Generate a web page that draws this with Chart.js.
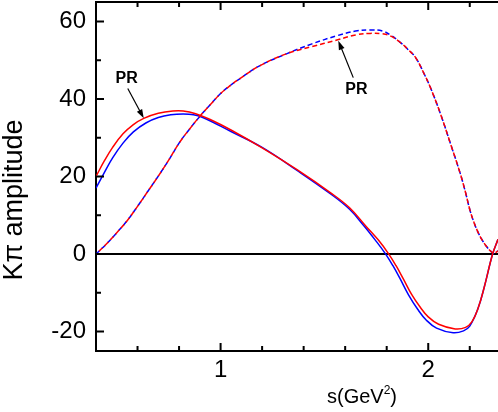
<!DOCTYPE html>
<html><head><meta charset="utf-8">
<script src="https://cdn.jsdelivr.net/npm/chart.js@4/dist/chart.umd.min.js"></script>
<style>html,body{margin:0;padding:0;background:#fff;overflow:hidden}canvas{display:block}</style>
</head><body>
<canvas id="c" width="498" height="412"></canvas>
<script>
// s (GeV^2) and amplitude values
const sRedSolid  = [0.40,0.44,0.48,0.53,0.58,0.63,0.70,0.77,0.82,0.88,0.95,1.05,1.20,1.37,1.53,1.62,1.70,1.76,1.81,1.845,1.88,1.92,1.96,2.00,2.05,2.13,2.18,2.21,2.24,2.27,2.31,2.336];
const yRedSolid  = [20.0,24.0,27.5,31.0,33.4,35.0,36.3,36.9,36.9,36.2,34.7,32.0,27.4,21.7,15.8,12.0,7.2,3.6,0,-3.0,-6.4,-10.4,-13.6,-16.2,-18.1,-19.3,-18.9,-17.5,-14.0,-8.5,0,3.8];
const sBlueSolid = [0.40,0.44,0.48,0.53,0.58,0.64,0.70,0.76,0.82,0.87,0.92,1.05,1.20,1.37,1.53,1.62,1.69,1.745,1.795,1.83,1.865,1.905,1.95,1.99,2.04,2.12,2.17,2.20,2.24,2.27,2.31,2.336];
const yBlueSolid = [17.0,21.0,24.8,28.6,31.5,33.8,35.2,35.9,36.1,35.9,35.1,31.6,27.5,21.5,15.5,11.6,7.3,3.6,0,-3.0,-6.4,-10.5,-14.3,-17.0,-19.1,-20.3,-19.8,-18.6,-14.0,-8.5,0,3.8];
const sRedDash   = [0.40,0.45,0.50,0.55,0.60,0.65,0.70,0.75,0.80,0.85,0.90,0.95,1.00,1.05,1.10,1.19,1.32,1.44,1.56,1.65,1.72,1.78,1.82,1.865,1.90,1.94,1.98,2.01,2.06,2.11,2.154,2.18,2.20,2.22,2.24,2.26,2.28,2.30,2.315,2.336];
const yRedDash   = [0,2.6,5.5,8.6,12.3,16.2,20.1,24.2,28.6,32.2,35.5,38.5,41.4,43.6,45.5,48.6,51.7,53.5,55.2,56.5,56.9,56.8,56.2,54.6,52.9,50.6,46.5,43.0,36.0,28.0,20.8,15.8,11.5,8.2,5.6,3.6,2.0,0.8,0.2,0.8];
const sBlueDash  = [0.40,0.45,0.50,0.55,0.60,0.65,0.70,0.75,0.80,0.85,0.90,0.95,1.00,1.05,1.10,1.19,1.32,1.44,1.56,1.65,1.72,1.78,1.82,1.865,1.90,1.94,1.98,2.01,2.06,2.11,2.154,2.18,2.20,2.22,2.24,2.26,2.28,2.30,2.315,2.336];
const yBlueDash  = [0,2.6,5.5,8.6,12.3,16.2,20.1,24.2,28.6,32.2,35.5,38.5,41.4,43.6,45.5,48.6,51.7,54.2,56.3,57.5,57.8,57.5,56.4,54.6,52.9,50.6,46.5,43.0,36.0,28.0,20.8,15.8,11.5,8.2,5.6,3.6,2.0,0.8,0.2,0.8];

const xMajorTicks = [1, 2];
const xMinorTicks = [0.6, 0.8, 1.2, 1.4, 1.6, 1.8, 2.2];
const yMajorTicks = [-20, 0, 20, 40, 60];
const yMinorTicks = [-10, 10, 30, 50];

// annotations: [label x, label y, arrow start x, y, arrow end x, y]
const prNotes = [
  [0.548, 45.3, 0.553, 42.7, 0.630, 35.0],
  [1.654, 42.4, 1.639, 45.5, 1.567, 55.0]
];

const FONT = "'Liberation Sans', Arial, Helvetica, sans-serif";
const pts = (xs, ys) => xs.map((v, i) => ({x: v, y: ys[i]}));

const decor = {
  id: 'decor',
  afterDraw(chart) {
    const {ctx, chartArea: a, scales: {x, y}} = chart;
    ctx.save();
    ctx.strokeStyle = '#000';
    ctx.lineWidth = 2;
    ctx.beginPath();
    for (const v of yMajorTicks) { const p = y.getPixelForValue(v); ctx.moveTo(a.left, p); ctx.lineTo(a.left + 8, p); }
    for (const v of yMinorTicks) { const p = y.getPixelForValue(v); ctx.moveTo(a.left, p); ctx.lineTo(a.left + 5, p); }
    for (const v of xMajorTicks) { const p = x.getPixelForValue(v); ctx.moveTo(p, a.bottom); ctx.lineTo(p, a.bottom - 8); ctx.moveTo(p, a.top); ctx.lineTo(p, a.top + 8); }
    for (const v of xMinorTicks) { const p = x.getPixelForValue(v); ctx.moveTo(p, a.bottom); ctx.lineTo(p, a.bottom - 5); ctx.moveTo(p, a.top); ctx.lineTo(p, a.top + 5); }
    ctx.stroke();

    // PR annotations
    ctx.fillStyle = '#000';
    ctx.font = 'bold 16px ' + FONT;
    ctx.textAlign = 'center';
    ctx.textBaseline = 'middle';
    ctx.lineWidth = 1.2;
    for (const n of prNotes) {
      ctx.fillText('PR', x.getPixelForValue(n[0]), y.getPixelForValue(n[1]));
      const x1 = x.getPixelForValue(n[2]), y1 = y.getPixelForValue(n[3]);
      const x2 = x.getPixelForValue(n[4]), y2 = y.getPixelForValue(n[5]);
      const ang = Math.atan2(y2 - y1, x2 - x1);
      ctx.beginPath(); ctx.moveTo(x1, y1); ctx.lineTo(x2 - 6 * Math.cos(ang), y2 - 6 * Math.sin(ang)); ctx.stroke();
      ctx.beginPath();
      ctx.moveTo(x2, y2);
      ctx.lineTo(x2 - 9 * Math.cos(ang) + 3 * Math.sin(ang), y2 - 9 * Math.sin(ang) - 3 * Math.cos(ang));
      ctx.lineTo(x2 - 9 * Math.cos(ang) - 3 * Math.sin(ang), y2 - 9 * Math.sin(ang) + 3 * Math.cos(ang));
      ctx.closePath(); ctx.fill();
    }

    // y title
    ctx.save();
    ctx.translate(22, 200);
    ctx.rotate(-Math.PI / 2);
    ctx.font = '27px ' + FONT;
    ctx.textAlign = 'center';
    ctx.textBaseline = 'alphabetic';
    ctx.fillText('K\u03c0 amplitude', 0, 0);
    ctx.restore();

    // x title s(GeV^2)
    ctx.textAlign = 'left';
    ctx.textBaseline = 'alphabetic';
    let tx = 327; const by = 403;
    ctx.font = '20px ' + FONT;
    ctx.fillText('s(GeV', tx, by); tx += ctx.measureText('s(GeV').width;
    ctx.font = '12px ' + FONT;
    ctx.fillText('2', tx, by - 9); tx += ctx.measureText('2').width;
    ctx.font = '20px ' + FONT;
    ctx.fillText(')', tx, by);
    ctx.restore();
  }
};

new Chart(document.getElementById('c'), {
  type: 'line',
  data: {
    datasets: [
      {data: pts(sRedSolid, yRedSolid), borderColor: '#ff0000', borderWidth: 1.5},
      {data: pts(sRedDash, yRedDash), borderColor: '#ff0000', borderWidth: 1.5, borderDash: [5, 3], borderDashOffset: 4},
      {data: pts(sBlueSolid, yBlueSolid), borderColor: '#0000ff', borderWidth: 1.5},
      {data: pts(sBlueDash, yBlueDash), borderColor: '#0000ff', borderWidth: 1.5, borderDash: [5, 3]}
    ]
  },
  options: {
    responsive: false,
    animation: false,
    events: [],
    layout: {padding: 0},
    elements: {point: {radius: 0}, line: {tension: 0.4, fill: false}},
    plugins: {legend: {display: false}, tooltip: {enabled: false}},
    scales: {
      x: {
        type: 'linear', position: 'bottom', min: 0.40, max: 2.336,
        afterBuildTicks: s => { s.ticks = xMajorTicks.map(v => ({value: v})); },
        afterFit: s => { s.height = 61; s.paddingLeft = 0; s.paddingRight = 0; },
        border: {display: true, color: '#000', width: 2},
        grid: {display: true, drawOnChartArea: false, drawTicks: false},
        ticks: {
          autoSkip: false, maxRotation: 0, padding: 5,
          color: '#000', font: {family: FONT, size: 24},
          callback: v => String(v)
        }
      },
      x2: {
        type: 'linear', position: 'top', min: 0.40, max: 2.336,
        afterFit: s => { s.height = 2; s.paddingLeft = 0; s.paddingRight = 0; },
        border: {display: true, color: '#000', width: 2},
        grid: {display: true, drawOnChartArea: false, drawTicks: false},
        ticks: {display: false}
      },
      y: {
        type: 'linear', position: 'left', min: -25, max: 65,
        afterBuildTicks: s => { s.ticks = yMajorTicks.map(v => ({value: v})); },
        afterFit: s => { s.width = 96; s.paddingTop = 0; s.paddingBottom = 0; },
        border: {display: true, color: '#000', width: 2},
        grid: {
          display: true, drawOnChartArea: true, drawTicks: false,
          color: c => (c.tick && c.tick.value === 0) ? '#000' : 'rgba(0,0,0,0)',
          lineWidth: 2
        },
        ticks: {
          autoSkip: false, padding: 10,
          color: '#000', font: {family: FONT, size: 24},
          callback: v => String(v)
        }
      }
    }
  },
  plugins: [decor]
});
</script>
</body></html>
